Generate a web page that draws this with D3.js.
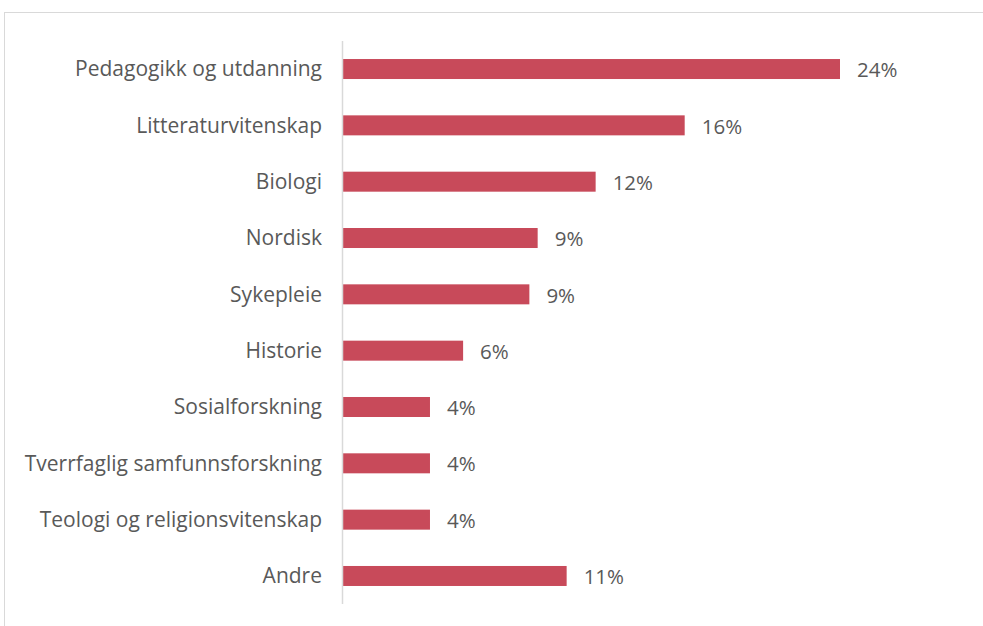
<!DOCTYPE html>
<html>
<head>
<meta charset="utf-8">
<script src="https://cdn.jsdelivr.net/npm/d3@7"></script>
<style>
  body { margin: 0; background: #fff; }
  svg text { font-family: "Open Sans", sans-serif; fill: #595959; }
</style>
</head>
<body>
<div id="chart"></div>
<script>
var categories = [
  "Pedagogikk og utdanning",
  "Litteraturvitenskap",
  "Biologi",
  "Nordisk",
  "Sykepleie",
  "Historie",
  "Sosialforskning",
  "Tverrfaglig samfunnsforskning",
  "Teologi og religionsvitenskap",
  "Andre"
];
var values = [24.0, 16.5, 12.2, 9.4, 9.0, 5.8, 4.2, 4.2, 4.2, 10.8];
var valueLabels = ["24%", "16%", "12%", "9%", "9%", "6%", "4%", "4%", "4%", "11%"];

var width = 983, height = 626;
var plotLeft = 343, plotTop = 41, plotBottom = 604;

var svg = d3.select("#chart").append("svg")
  .attr("width", width)
  .attr("height", height);

// chart area border (runs off the page on right and bottom)
svg.append("rect")
  .attr("x", 4.5).attr("y", 12.5)
  .attr("width", width + 10).attr("height", height + 10)
  .attr("fill", "none")
  .attr("stroke", "#d9d9d9");

var x = d3.scaleLinear().domain([0, 24]).range([plotLeft, 840]);
var y = d3.scaleBand().domain(categories).range([plotTop, plotBottom]).paddingInner(0.645).paddingOuter(0.32);

svg.append("g").selectAll("rect")
  .data(values)
  .join("rect")
  .attr("x", x(0))
  .attr("y", function (d, i) { return y(categories[i]); })
  .attr("width", function (d) { return x(d) - x(0); })
  .attr("height", y.bandwidth())
  .attr("fill", "#c84a5a");

// axis line
svg.append("line")
  .attr("x1", plotLeft - 0.5).attr("x2", plotLeft - 0.5)
  .attr("y1", plotTop).attr("y2", plotBottom)
  .attr("stroke", "#d9d9d9")
  .attr("stroke-width", 1.5);

svg.append("g").selectAll("text")
  .data(categories)
  .join("text")
  .attr("x", 322)
  .attr("y", function (d) { return y(d) + y.bandwidth() / 2; })
  .attr("dy", "0.35em")
  .attr("text-anchor", "end")
  .style("font-size", "21px")
  .text(function (d) { return d; });

svg.append("g").selectAll("text")
  .data(values)
  .join("text")
  .attr("x", function (d) { return x(d) + 17; })
  .attr("y", function (d, i) { return y(categories[i]) + y.bandwidth() / 2 + 1; })
  .attr("dy", "0.35em")
  .style("font-size", "20.5px")
  .text(function (d, i) { return valueLabels[i]; });
</script>
</body>
</html>
